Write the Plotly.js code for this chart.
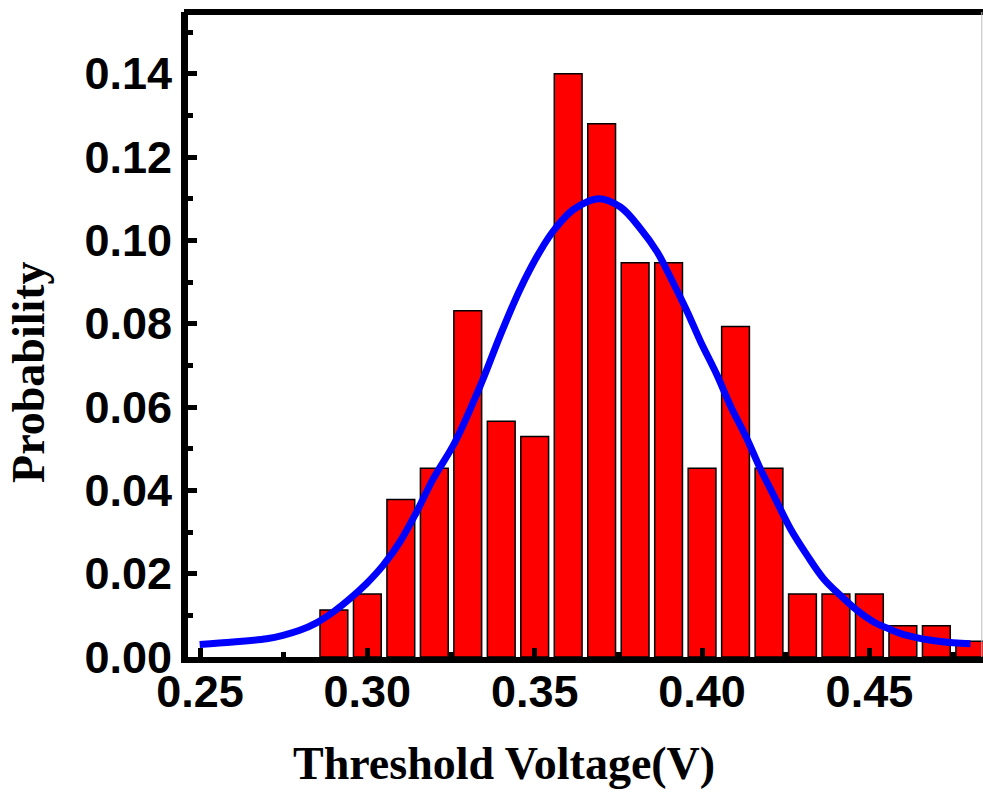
<!DOCTYPE html>
<html>
<head>
<meta charset="utf-8">
<script src="https://cdn.plot.ly/plotly-3.0.1.min.js"></script>
<style>html,body{margin:0;padding:0;background:#fff;}#chart{width:983px;height:794px;}</style>
</head>
<body>
<div id="chart"></div>
<script>
// Histogram bins (threshold voltage, V) and probability
const binCenters = [0.29, 0.30, 0.31, 0.32, 0.33, 0.34, 0.35, 0.36, 0.37, 0.38,
                    0.39, 0.40, 0.41, 0.42, 0.43, 0.44, 0.45, 0.46, 0.47, 0.48];
const probability = [0.0113, 0.0151, 0.0378, 0.0453, 0.0831, 0.0566, 0.0529, 0.1400, 0.1280, 0.0946,
                     0.0946, 0.0453, 0.0793, 0.0453, 0.0151, 0.0151, 0.0151, 0.0075, 0.0075, 0.0038];

// Fitted curve, points
const fitX = [0.2499, 0.2599, 0.2699, 0.2748, 0.2798, 0.2848, 0.2898, 0.2948, 0.2997, 0.3047,
              0.3097, 0.3147, 0.3197, 0.3262, 0.3342, 0.3397, 0.3457, 0.3516, 0.3561, 0.3616,
              0.3691, 0.3756, 0.3816, 0.3866, 0.3905, 0.3955, 0.3995, 0.4045, 0.4084, 0.4134,
              0.4174, 0.4214, 0.4264, 0.4314, 0.4363, 0.4413, 0.4463, 0.4513, 0.4563, 0.4612,
              0.4712, 0.4802];
const fitY = [0.0030, 0.0036, 0.0044, 0.0052, 0.0064, 0.0082, 0.0108, 0.0140, 0.0176, 0.0220,
              0.0276, 0.0348, 0.0428, 0.0516, 0.0660, 0.0772, 0.0884, 0.0974, 0.1028, 0.1074,
              0.1100, 0.1080, 0.1028, 0.0972, 0.0912, 0.0830, 0.0758, 0.0676, 0.0604, 0.0524,
              0.0452, 0.0388, 0.0308, 0.0244, 0.0188, 0.0148, 0.0112, 0.0084, 0.0066, 0.0052,
              0.0037, 0.0032];

const xTickVals = [0.25, 0.30, 0.35, 0.40, 0.45];
const xTickText = ['0.25', '0.30', '0.35', '0.40', '0.45'];
const yTickVals = [0.00, 0.02, 0.04, 0.06, 0.08, 0.10, 0.12, 0.14];
const yTickText = ['0.00', '0.02', '0.04', '0.06', '0.08', '0.10', '0.12', '0.14'];

const xTitle = 'Threshold Voltage(V)';
const yTitle = 'Probability';

const tickFont = {family: 'Liberation Sans, Arial, sans-serif', size: 45, color: '#000', weight: 'bold'};
const titleFont = {family: 'Liberation Serif, Times New Roman, serif', size: 46, color: '#000', weight: 'bold'};

const traces = [
  {
    type: 'bar',
    x: binCenters,
    y: probability,
    width: 0.0083,
    marker: {color: '#ff0000', line: {color: '#000', width: 1.5}},
    hoverinfo: 'x+y'
  },
  {
    type: 'scatter',
    mode: 'lines',
    x: fitX,
    y: fitY,
    line: {color: '#0000ff', width: 7, shape: 'spline', smoothing: 1},
    hoverinfo: 'x+y'
  }
];

const layout = {
  width: 983,
  height: 794,
  margin: {l: 188, r: 0, t: 12, b: 137, pad: 0},
  paper_bgcolor: '#fff',
  plot_bgcolor: '#fff',
  showlegend: false,
  xaxis: {
    range: [0.24641, 0.48394],
    tickmode: 'array',
    tickvals: xTickVals,
    ticktext: xTickText,
    ticks: 'inside',
    ticklen: 9,
    tickwidth: 5,
    tickcolor: '#000',
    tickfont: tickFont,
    ticklabelstandoff: -10,
    showline: true,
    linecolor: '#000',
    linewidth: 6,
    showgrid: false,
    zeroline: false,
    minor: {ticks: 'inside', ticklen: 5, tickwidth: 5, tickcolor: '#000', dtick: 0.025, tick0: 0.25, showgrid: false},
    fixedrange: true
  },
  yaxis: {
    range: [0, 0.1548],
    tickmode: 'array',
    tickvals: yTickVals,
    ticktext: yTickText,
    ticks: 'inside',
    ticklen: 9,
    tickwidth: 5,
    tickcolor: '#000',
    tickfont: tickFont,
    showline: true,
    linecolor: '#000',
    linewidth: 7,
    showgrid: false,
    zeroline: false,
    minor: {ticks: 'inside', ticklen: 5, tickwidth: 5, tickcolor: '#000', dtick: 0.01, tick0: 0, showgrid: false},
    fixedrange: true
  },
  shapes: [
    {type: 'line', xref: 'paper', yref: 'paper', x0: -0.005, x1: 1, y0: 1, y1: 1,
     line: {color: '#000', width: 6}},
    {type: 'line', xref: 'paper', yref: 'paper', x0: 0.9985, x1: 0.9985, y0: 0, y1: 1,
     line: {color: '#bbbbbb', width: 1}}
  ],
  annotations: [
    {text: xTitle, xref: 'paper', yref: 'paper', x: 0.397, y: -0.165, xanchor: 'center', yanchor: 'middle',
     showarrow: false, font: titleFont},
    {text: yTitle, xref: 'paper', yref: 'paper', x: -0.2, y: 0.442, xanchor: 'center', yanchor: 'middle',
     textangle: -90, showarrow: false, font: titleFont}
  ]
};

Plotly.newPlot('chart', traces, layout, {displayModeBar: false, staticPlot: true});
</script>
</body>
</html>
